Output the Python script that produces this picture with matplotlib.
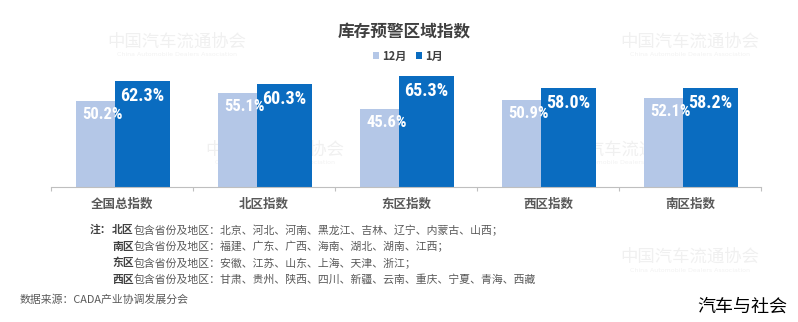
"""Inventory warning index by region, December vs January."""

import matplotlib.pyplot as plt
import numpy as np

plt.rcParams['font.family'] = ['Noto Sans CJK SC', 'DejaVu Sans']

# data
categories = ['全国总指数', '北区指数', '东区指数', '西区指数', '南区指数']
dec_values = [50.2, 55.1, 45.6, 50.9, 52.1]
jan_values = [62.3, 60.3, 65.3, 58.0, 58.2]
series_names = ['12月', '1月']

notes = [
    ('注：', '北区', '包含省份及地区：北京、河北、河南、黑龙江、吉林、辽宁、内蒙古、山西；'),
    ('', '南区', '包含省份及地区：福建、广东、广西、海南、湖北、湖南、江西；'),
    ('', '东区', '包含省份及地区：安徽、江苏、山东、上海、天津、浙江；'),
    ('', '西区', '包含省份及地区：甘肃、贵州、陕西、四川、新疆、云南、重庆、宁夏、青海、西藏'),
]
source = '数据来源：CADA产业协调发展分会'
brand = '汽车与社会'

LIGHT = '#B4C7E7'
DARK = '#0A6CC0'
W, H = 798, 322
NUM_FONT = ['Roboto Condensed', 'DejaVu Sans']


def px(x, y):
    """Pixel position (from top-left) to figure fraction."""
    return x / W, 1 - y / H


fig = plt.figure(figsize=(W / 100, H / 100), dpi=100)

# faint association watermark, tiled behind everything
for cx, cy in [(177, 42), (690, 42), (275, 150), (622, 150), (690, 257)]:
    fig.text(*px(cx, cy), '中国汽车流通协会', fontsize=12.5, color='#F0F0F0',
             ha='center', va='center', zorder=-5)
    fig.text(*px(cx, cy + 13), 'China Automobile Dealers Association',
             fontsize=4.5, color='#F2F2F2', ha='center', va='center',
             family='DejaVu Sans', zorder=-5)

ax = fig.add_axes([51 / W, 135.3 / H, 710 / W, 127.5 / H])
ax.patch.set_alpha(0)

x = np.arange(len(categories))
light_w, dark_w = 0.275, 0.387
split = -0.05
ax.bar(x + split, dec_values, width=-light_w, align='edge', color=LIGHT,
       label=series_names[0], zorder=2)
ax.bar(x + split, jan_values, width=dark_w, align='edge', color=DARK,
       label=series_names[1], zorder=2)

for xi, v in zip(x, dec_values):
    ax.text(xi + split - light_w / 2 + 0.05, v - 8.0, f'{v:.1f}%',
            ha='center', va='center', color='white', fontsize=12,
            fontweight='bold', family=NUM_FONT, zorder=3)
for xi, v in zip(x, jan_values):
    ax.text(xi + split + dark_w / 2, v - 8.8, f'{v:.1f}%',
            ha='center', va='center', color='white', fontsize=13,
            fontweight='bold', family=NUM_FONT, zorder=3)

ax.set_xlim(-0.5, len(categories) - 0.5)
ax.set_ylim(0, 75)
for side in ['top', 'right', 'left']:
    ax.spines[side].set_visible(False)
ax.spines['bottom'].set_color('#BFBFBF')
ax.set_yticks([])
ax.set_xticks(np.arange(len(categories) + 1) - 0.5)
ax.set_xticklabels([])
ax.tick_params(axis='x', length=3, color='#BFBFBF')
for xi, name in zip(x, categories):
    ax.text(xi, -10.5, name, ha='center', va='center', fontsize=9,
            fontweight='bold', color='#595959')

# title and legend
fig.text(*px(404, 32), '库存预警区域指数', ha='center', va='center',
         fontsize=12, fontweight='bold', color='#404040')
handles, labels = ax.get_legend_handles_labels()
fig.legend(handles, labels, loc='center', bbox_to_anchor=px(408, 56), ncol=2,
           frameon=False, handlelength=0.5, handleheight=0.5,
           handletextpad=0.3, columnspacing=0.9,
           prop={'size': 8, 'weight': 'bold'}, labelcolor='#404040')

# region notes, bold prefix followed by the province list
fig.canvas.draw()
renderer = fig.canvas.get_renderer()
for i, (lead, region, rest) in enumerate(notes):
    y = 230 + 16.6 * i
    xpos = 90 if lead else 112
    for part, weight, color in [(lead, 'bold', '#404040'),
                                (region, 'bold', '#404040'),
                                (rest, 'normal', '#595959')]:
        if not part:
            continue
        t = fig.text(xpos / W, 1 - y / H, part, fontsize=7.8, fontweight=weight,
                     color=color, ha='left', va='center')
        xpos = t.get_window_extent(renderer).x1

fig.text(*px(20, 300), source, fontsize=7.8, color='#595959',
         ha='left', va='center')
fig.text(*px(742, 307), brand, fontsize=13, color='black',
         ha='center', va='center')

fig.savefig('out.png', dpi=100, facecolor='white')
